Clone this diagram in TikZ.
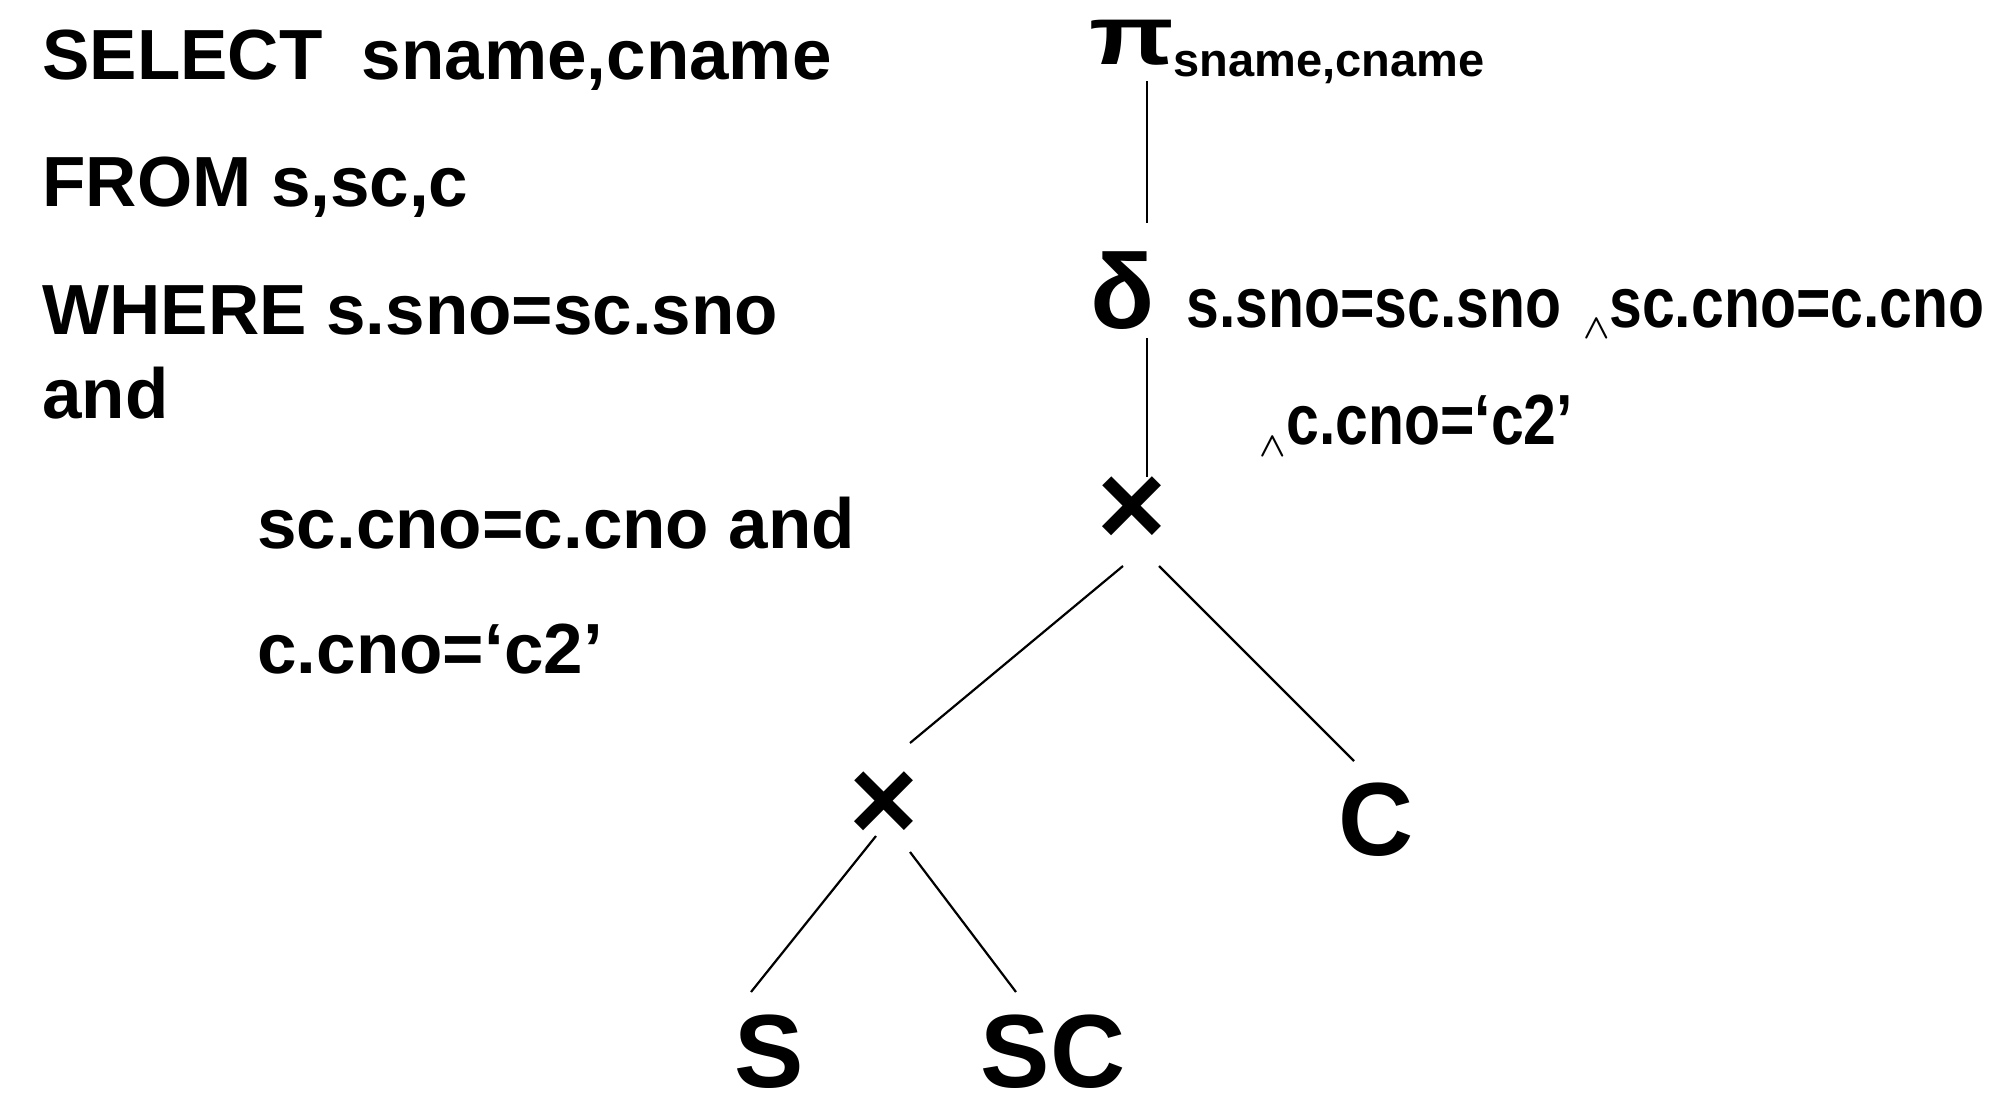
\documentclass[tikz,border=0pt]{standalone}
\usepackage{fontspec}
\setmainfont{Liberation Sans}
\newfontfamily\condfont[FakeStretch=0.83]{Liberation Sans}
\usetikzlibrary{calc}

\begin{document}
\begin{tikzpicture}[x=0.5pt,y=-0.5pt,
	sql/.style={anchor=base west,inner sep=0pt,font=\fontsize{35.5}{40}\selectfont\bfseries},
	cond/.style={anchor=base west,inner sep=0pt,font=\condfont\fontsize{35.5}{40}\selectfont\bfseries},
	andsign/.style={anchor=base west,inner sep=0pt,font=\fontsize{16}{18}\selectfont\boldmath},
	opsym/.style={anchor=base,inner sep=0pt,font=\fontsize{#1}{#1}\selectfont\bfseries},
	rel/.style={anchor=base,inner sep=0pt,font=\fontsize{52}{60}\selectfont\bfseries},
	edge/.style={line width=1.1pt}]
	\useasboundingbox (0,0) rectangle (1999,1114);

	%SQL query
	\node[sql] (select) at (42,79) {SELECT\ \ sname,cname};
	\node[sql] (from) at (42,206) {FROM s,sc,c};
	\node[sql] (where) at (42,334) {WHERE s.sno=sc.sno};
	\node[sql] (and) at (42,418) {and};
	\node[sql] (join) at (257,548) {sc.cno=c.cno and};
	\node[sql] (restr) at (257,673) {c.cno=‘c2’};

	%operators
	\node[opsym=42] (pi) at (1132,64) {\scalebox{1.32}[1]{π}}; %projection
	\node[anchor=base west,inner sep=0pt,font=\fontsize{23.5}{26}\selectfont\bfseries] (proj) at (1173,76) {sname,cname};
	\node[opsym=53] (sel) at (1123,328) {δ}; %selection
	\node[cond] (cond1) at (1186,327) {s.sno=sc.sno};
	\node[andsign] (and1) at (1583,338) {$\wedge$};
	\node[cond] (cond2) at (1609,327) {sc.cno=c.cno};
	\node[andsign] (and2) at (1259,456) {$\wedge$};
	\node[cond] (cond3) at (1286,444) {c.cno=‘c2’};
	\node[opsym=59] (xtop) at (1132,545) {×}; %upper product
	\node[opsym=59] (xbot) at (884,840) {×}; %lower product

	%relations
	\node[rel] (tc) at (1376,855) {C};
	\node[rel] (ts) at (769,1087) {S};
	\node[rel] (tsc) at (1053,1087) {SC};

	%edges
	\draw[edge] ($(pi.base)+(15,17)$) -- ($(sel.base)+(24,-105)$);
	\draw[edge] ($(sel.base)+(24,10)$) -- ($(xtop.base)+(15,-68)$);
	\draw[edge] ($(xtop.base)+(-9,21)$) -- ($(xbot.base)+(26,-97)$);
	\draw[edge] ($(xtop.base)+(27,21)$) -- ($(tc.base)+(-22,-94)$);
	\draw[edge] ($(xbot.base)+(-8,-4)$) -- ($(ts.base)+(-18,-95)$);
	\draw[edge] ($(xbot.base)+(26,12)$) -- ($(tsc.base)+(-37,-95)$);
\end{tikzpicture}
\end{document}
